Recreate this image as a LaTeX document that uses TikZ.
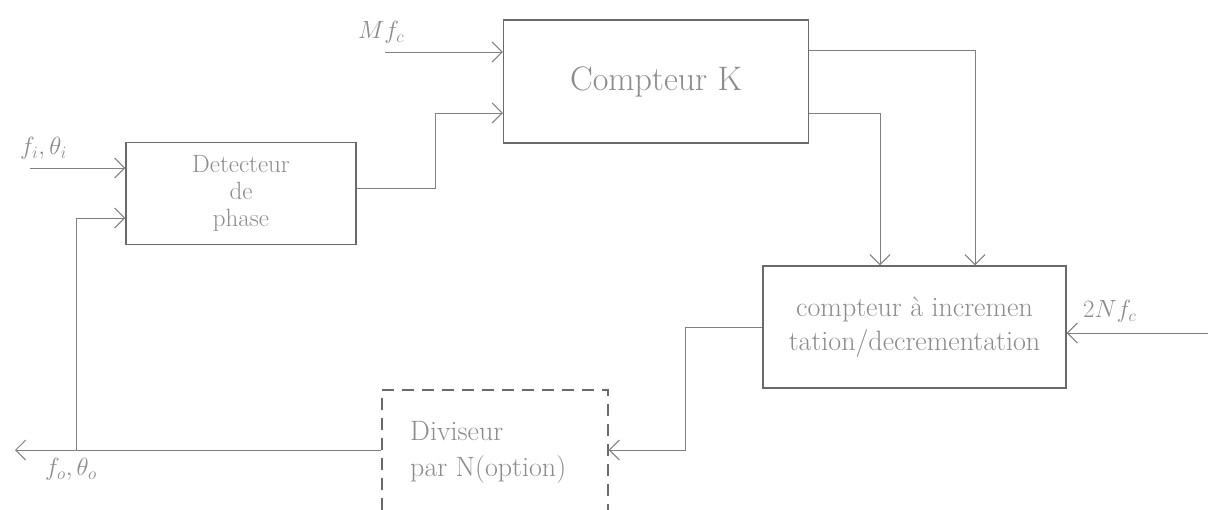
\documentclass[tikz,border=0pt]{standalone}
\usetikzlibrary{arrows.meta,calc}
\definecolor{lin}{HTML}{808080}
\definecolor{box}{HTML}{6A6A6A}
\definecolor{txt}{HTML}{8C8C8C}
\begin{document}
\begin{tikzpicture}[x=1pt,y=-1pt,
  blk/.style={draw=box,line width=1.4pt,inner sep=0pt,text=txt,align=center},
  wire/.style={draw=lin,line width=1pt},
  arr/.style={wire,-{Straight Barb[length=10pt,width=20pt,line width=1pt]}},
  lab/.style={text=txt,font=\fontsize{26}{28}\selectfont,inner sep=0pt}]
\useasboundingbox (0,0) rectangle (1208,509);
\clip (0,0) rectangle (1208,509);
\fill[white] (0,0) rectangle (1208,509);
% blocks
\node[blk,minimum width=230pt,minimum height=102pt,font=\fontsize{25}{27}\selectfont] (det) at (241,193.5)
  {Detecteur\\de\\phase};
\node[blk,minimum width=305pt,minimum height=123pt,font=\fontsize{34}{36}\selectfont] (comp) at (656,81.5) {\raisebox{5pt}{Compteur K}};
\node[blk,minimum width=303pt,minimum height=122pt,font=\fontsize{28}{34}\selectfont] (incr) at (914.5,327)
  {compteur à incremen\\tation/decrementation};
\node[blk,dashed,dash pattern=on 12pt off 8pt,minimum width=226pt,minimum height=140pt] (div) at (495,460) {};
\node[lab,anchor=west,align=left,font=\fontsize{28}{36}\selectfont] (divtxt) at (410,452) {Diviseur\\par N(option)};
% coordinates
\coordinate (fiS) at (30,168);
\coordinate (mS) at (385,52);
\coordinate (nS) at (1208,333);
\coordinate (c1) at (685,450);
\coordinate (j) at (76,450);
\coordinate (out) at (15,450);
\coordinate (k1) at (975,50);
\coordinate (k2) at (880,113);
\coordinate (d1) at (435,188);
% labels
\node[lab,anchor=south west] (fil) at (20,160) {$f_i,\theta_i$};
\node[lab,anchor=south west] (ml) at (358,44) {$Mf_c$};
\node[lab,anchor=south west] (nl) at (1083,323) {$2Nf_c$};
\node[lab,anchor=north west] (fol) at (45,458) {$f_o,\theta_o$};
% connectors
\draw[arr] (fiS) -- (fiS -| det.west);
\draw[arr] (mS) -- (mS -| comp.west);
\draw[arr] (det.east |- d1) -- (d1) |- (k2 -| comp.west);
\draw[arr] (comp.east |- k1) -- (k1) -- (k1 |- incr.north);
\draw[arr] (comp.east |- k2) -- (k2) -- (k2 |- incr.north);
\draw[arr] (nS) -- (nS -| incr.east);
\draw[arr] (incr.west) -| (c1) -- (c1 -| div.east);
\draw[arr] (div.west |- c1) -- (out);
\draw[arr] (j) |- (det.west |- 0,218);
\end{tikzpicture}
\end{document}
